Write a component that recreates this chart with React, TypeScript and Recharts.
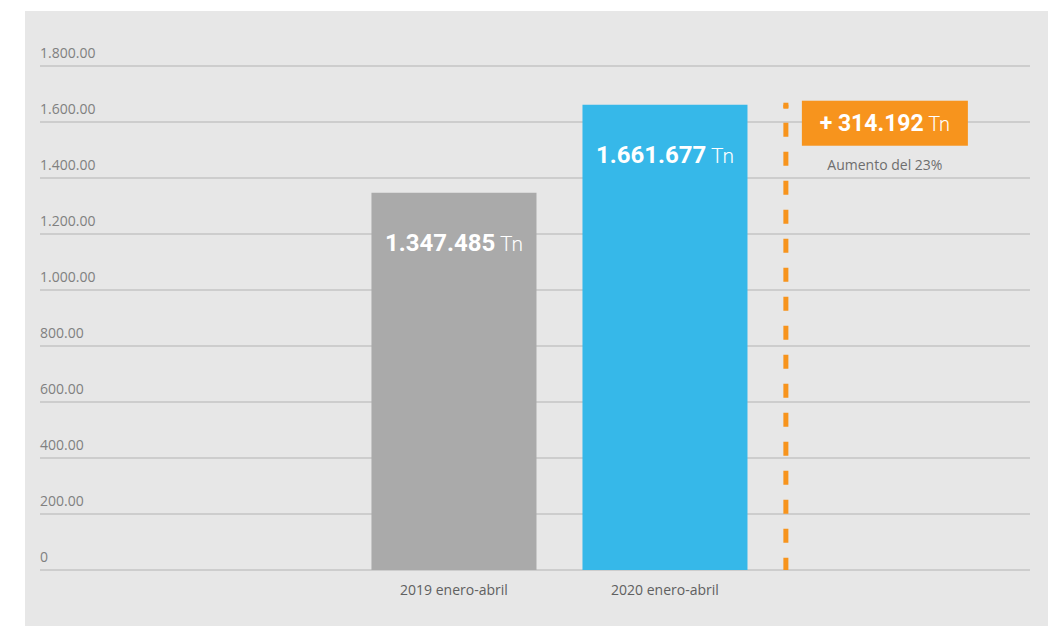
import { BarChart, Bar, XAxis, YAxis, CartesianGrid, Cell, LabelList, ReferenceLine, ReferenceDot } from "recharts";

// production Jan-Apr, thousands of tonnes
const periods = ["2019 enero-abril", "2020 enero-abril"];
const slots = [1, 2];
const tonnes = [1347.485, 1661.677];
const barColors = ["#aaaaaa", "#36b8e9"];
const yTicks = [0, 200, 400, 600, 800, 1000, 1200, 1400, 1600, 1800];

// slot where the "increase" marker sits, just right of the 2020 bar
const markerSlot = 2.573;

const data = periods.map((p, i) => ({ slot: slots[i], period: p, value: tonnes[i] }));

const increase = tonnes[1] - tonnes[0];
const increasePct = Math.round((increase / tonnes[0]) * 100);

function dots(n: number) {
  return String(n).replace(/\B(?=(\d{3})+(?!\d))/g, ".");
}

function fmtAxis(v: number) {
  if (v === 0) return "0";
  return dots(v) + ".00";
}

function fmtTn(v: number) {
  const [int, dec] = v.toFixed(3).split(".");
  return dots(Number(int)) + "." + dec;
}

const FONT = "Roboto, 'Open Sans', sans-serif";
const SMALL = "'Open Sans', sans-serif";
const ORANGE = "#f7941d";

function YTick(props: any) {
  const { y, payload } = props;
  return (
    <text x={15} y={y - 8} fontSize={14} fill="#808080" textAnchor="start" fontFamily={SMALL}>
      {fmtAxis(payload.value)}
    </text>
  );
}

function BarValue(props: any) {
  const { x, y, width, value } = props;
  return (
    <text x={x + width / 2} y={y + 58} textAnchor="middle" fill="#fff">
      <tspan fontSize={24} fontWeight={700}>{fmtTn(value)}</tspan>
      <tspan fontSize={21} fontWeight={300}> Tn</tspan>
    </text>
  );
}

function IncreaseMarker(props: any) {
  const { cx, cy } = props;
  return (
    <g>
      <rect x={cx - 2.5} y={cy - 2} width={5} height={6} fill={ORANGE} />
      <rect x={cx + 16} y={cy - 4} width={166} height={45} fill={ORANGE} />
      <text x={cx + 99} y={cy + 26} textAnchor="middle" fill="#fff">
        <tspan fontSize={23} fontWeight={700}>+ {fmtTn(increase)}</tspan>
        <tspan fontSize={20} fontWeight={300}> Tn</tspan>
      </text>
      <text x={cx + 99} y={cy + 65} textAnchor="middle" fill="#6e6e6e" fontSize={14} fontFamily={SMALL}>
        Aumento del {increasePct}%
      </text>
    </g>
  );
}

export default function App() {
  return (
    <div style={{ position: "relative", width: 1056, height: 634, margin: -8, background: "#fff" }}>
      <div style={{ position: "absolute", left: 25, top: 11, width: 1031, height: 623, background: "#e7e7e7" }}>
        <BarChart
          width={1031}
          height={623}
          data={data}
          margin={{ top: 55, right: 26, left: 0, bottom: 34 }}
          style={{ fontFamily: FONT }}
        >
          <CartesianGrid vertical={false} stroke="#cdcdcd" strokeWidth={2} />
          <XAxis
            dataKey="slot"
            type="number"
            domain={[-0.962, 3.73]}
            ticks={slots}
            tickFormatter={(v: number) => periods[v - 1]}
            axisLine={false}
            tickLine={false}
            tickMargin={9}
            height={30}
            tick={{ fontSize: 14, fill: "#606060", fontFamily: SMALL }}
          />
          <YAxis
            domain={[0, 1800]}
            ticks={yTicks}
            width={15}
            axisLine={false}
            tickLine={false}
            tick={<YTick />}
          />
          <Bar dataKey="value" barSize={165} isAnimationActive={false}>
            {data.map((d, i) => (
              <Cell key={d.period} fill={barColors[i]} />
            ))}
            <LabelList dataKey="value" content={<BarValue />} />
          </Bar>
          <ReferenceLine
            segment={[
              { x: markerSlot, y: tonnes[1] },
              { x: markerSlot, y: 0 },
            ]}
            stroke={ORANGE}
            strokeWidth={5}
            strokeDasharray="14 15"
            strokeDashoffset={-18}
          />
          <ReferenceDot x={markerSlot} y={tonnes[1]} r={3} shape={<IncreaseMarker />} />
        </BarChart>
      </div>
    </div>
  );
}
